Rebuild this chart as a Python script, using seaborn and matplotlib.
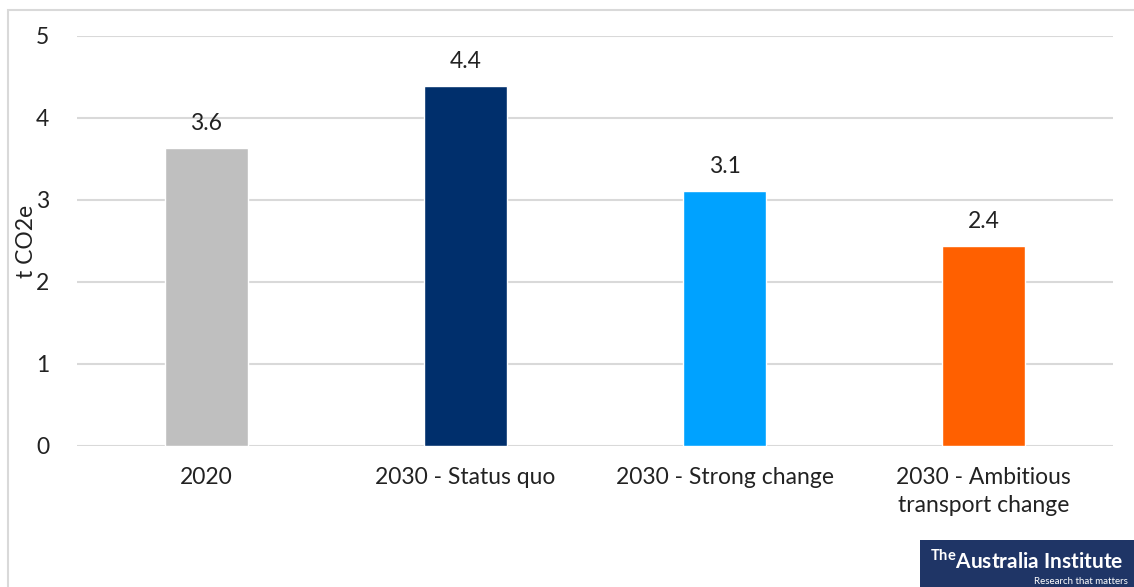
import matplotlib
matplotlib.use("Agg")
import matplotlib.pyplot as plt
import seaborn as sns
import pandas as pd
from matplotlib.patches import Rectangle

categories = ["2020", "2030 - Status quo", "2030 - Strong change", "2030 - Ambitious\ntransport change"]
values = [3.63, 4.39, 3.11, 2.44]
labels = ["3.6", "4.4", "3.1", "2.4"]
colors = ["#BFBFBF", "#002F6C", "#00A2FF", "#FF6000"]
yticks = [0, 1, 2, 3, 4, 5]

sns.set_theme(style="white")
plt.rcParams["font.family"] = ["Lato", "DejaVu Sans"]

df = pd.DataFrame({"cat": categories, "val": values})

fig = plt.figure(figsize=(11.34, 5.87), dpi=100)
ax = fig.add_axes([77/1134, 1 - 446/587, 1036/1134, 410/587])

sns.barplot(data=df, x="cat", y="val", hue="cat", palette=colors, legend=False,
            width=0.317, ax=ax, saturation=1, zorder=3)

fs = 16.5
ax.set_xlim(-0.5, 3.5)
ax.set_ylim(0, 5)
ax.set_yticks(yticks)
ax.yaxis.grid(True, color="#D9D9D9", linewidth=1.5, zorder=0)
ax.set_axisbelow(True)
for s in ax.spines.values():
    s.set_visible(False)
ax.tick_params(axis="both", length=0, labelsize=fs, colors="#222222")
ax.tick_params(axis="y", pad=20)
ax.tick_params(axis="x", pad=15)
for t in ax.get_xticklabels():
    t.set_linespacing(1.45)
ax.set_xlabel("")
ax.set_ylabel("t CO2e", fontsize=fs, color="#222222", labelpad=-1)

for i, (v, l) in enumerate(zip(values, labels)):
    ax.text(i, v + 0.17, l, ha="center", va="bottom", fontsize=fs, color="#222222")

# outer chart border
fig.patches.append(Rectangle((8/1134, -0.01), 1.1, 1 - 10/587 + 0.01, transform=fig.transFigure,
                             fill=False, edgecolor="#D9D9D9", linewidth=1.5))

# logo
fig.patches.append(Rectangle((920/1134, 0), 214/1134, 47/587, transform=fig.transFigure,
                             facecolor="#1F3566", edgecolor="none"))
fig.text(1027/1134, 1 - 561/587, "$^{\\mathregular{The}}$Australia Institute", ha="center", va="center",
         color="white", fontsize=15, fontweight="bold")
fig.text(1128/1134, 1 - 582/587, "Research that matters", ha="right", va="center",
         color="white", fontsize=7)

fig.savefig("out.png", dpi=100, facecolor="white")
